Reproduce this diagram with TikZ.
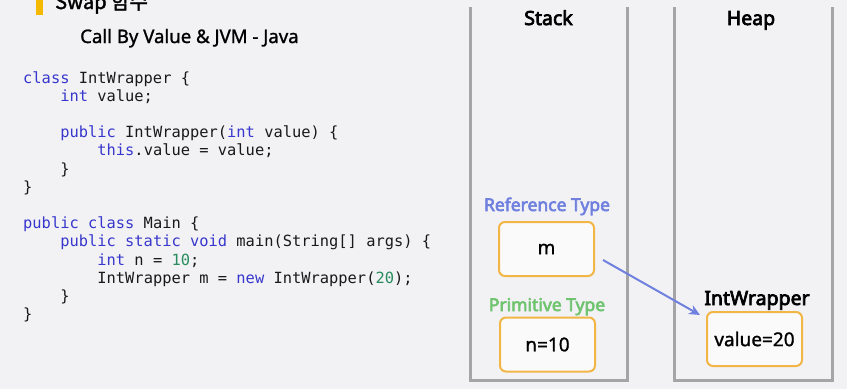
\documentclass[tikz,border=0pt]{standalone}
\usepackage{fontspec}
\setmainfont{Noto Sans}
\newfontfamily\krfont{Noto Sans CJK KR}[FakeBold=2]
\newfontfamily\medfont{Noto Sans}[FakeBold=1.2]
\newfontfamily\boldfont{Noto Sans}[FakeBold=3.5]
\newfontfamily\codefont{DejaVu Sans Mono}
\usetikzlibrary{arrows.meta,positioning}

\definecolor{bgcol}{RGB}{242,242,245}
\definecolor{barcol}{RGB}{245,185,0}
\definecolor{kwblue}{RGB}{55,55,205}
\definecolor{numgreen}{RGB}{40,140,95}
\definecolor{wallgray}{RGB}{165,165,168}
\definecolor{boxorange}{RGB}{242,182,70}
\definecolor{reflilac}{RGB}{112,128,222}
\definecolor{primgreen}{RGB}{112,196,112}

\newcommand{\kw}[1]{\textcolor{kwblue}{#1}}
\newcommand{\numlit}[1]{\textcolor{numgreen}{#1}}

\begin{document}
\begin{tikzpicture}[x=1pt, y=-1pt,
    codeline/.style={anchor=base west, inner sep=0pt, font=\codefont\fontsize{15.4}{18}\selectfont, text=black!90},
    colwall/.style={draw=wallgray, line width=3pt},
    heading/.style={anchor=base, inner sep=0pt, font=\boldfont\fontsize{19.5}{22}\selectfont},
    cellbox/.style={draw=boxorange, line width=2pt, rounded corners=6pt, fill=white!60!bgcol,
        minimum width=95pt, minimum height=54pt, font=\medfont\fontsize{19}{22}\selectfont},
    typelabel/.style={anchor=base, inner sep=0pt, font=\boldfont\fontsize{17.5}{20}\selectfont},
    ptr/.style={draw=reflilac, line width=2pt, -{Stealth[length=11pt,width=10pt]}}]

    \clip (0,0) rectangle (847,389);
    \fill[bgcol] (0,0) rectangle (847,389);

    % title
    \fill[barcol] (36,-2) rectangle (43,15);
    \node[anchor=base west, inner sep=0pt, font=\krfont\fontsize{20}{24}\selectfont] (title) at (55,9) {Swap 함수};
    \node[anchor=base west, inner sep=0pt, font=\medfont\fontsize{18.6}{22}\selectfont] (subtitle) at (80,43) {Call By Value \& JVM - Java};

    % code
    \foreach \ln/\lvl/\txt in {0/0/{\kw{class} IntWrapper \{},
                              1/1/{\kw{int} value;},
                              3/1/{\kw{public} IntWrapper(\kw{int} value) \{},
                              4/2/{\kw{this}.value = value;},
                              5/1/{\}},
                              6/0/{\}},
                              8/0/{\kw{public} \kw{class} Main \{},
                              9/1/{\kw{public} \kw{static} \kw{void} main(String[] args) \{},
                              10/2/{\kw{int} n = \numlit{10};},
                              11/2/{IntWrapper m = \kw{new} IntWrapper(\numlit{20});},
                              12/1/{\}},
                              13/0/{\}}}
        \node[codeline] (code\ln) at ({23+37.1*\lvl},{83+18.2*\ln}) {\txt};

    % stack
    \draw[colwall] (470,7) -- (470,380) -- (627,380) -- (627,7);
    \node[heading] (stack) at (548.5,25) {Stack};
    \node[typelabel, text=reflilac] (reftype) at (547,211) {Reference Type};
    \node[cellbox] (mbox) at (546.5,249) {m};
    \node[typelabel, text=primgreen] (primtype) at (547,311) {Primitive Type};
    \node[cellbox] (nbox) at (547.5,344.5) {n=10};

    % heap
    \draw[colwall] (674,7) -- (674,380) -- (832,380) -- (832,7);
    \node[heading] (heap) at (751,25) {Heap};
    \node[typelabel, text=black, font=\boldfont\fontsize{19.5}{22}\selectfont] (wrapname) at (757,305) {IntWrapper};
    \node[cellbox] (valbox) at (754.5,339) {value=20};

    \draw[ptr] ([shift={(8,11)}]mbox.east) -- ([shift={(-6,-24)}]valbox.west);
\end{tikzpicture}
\end{document}
